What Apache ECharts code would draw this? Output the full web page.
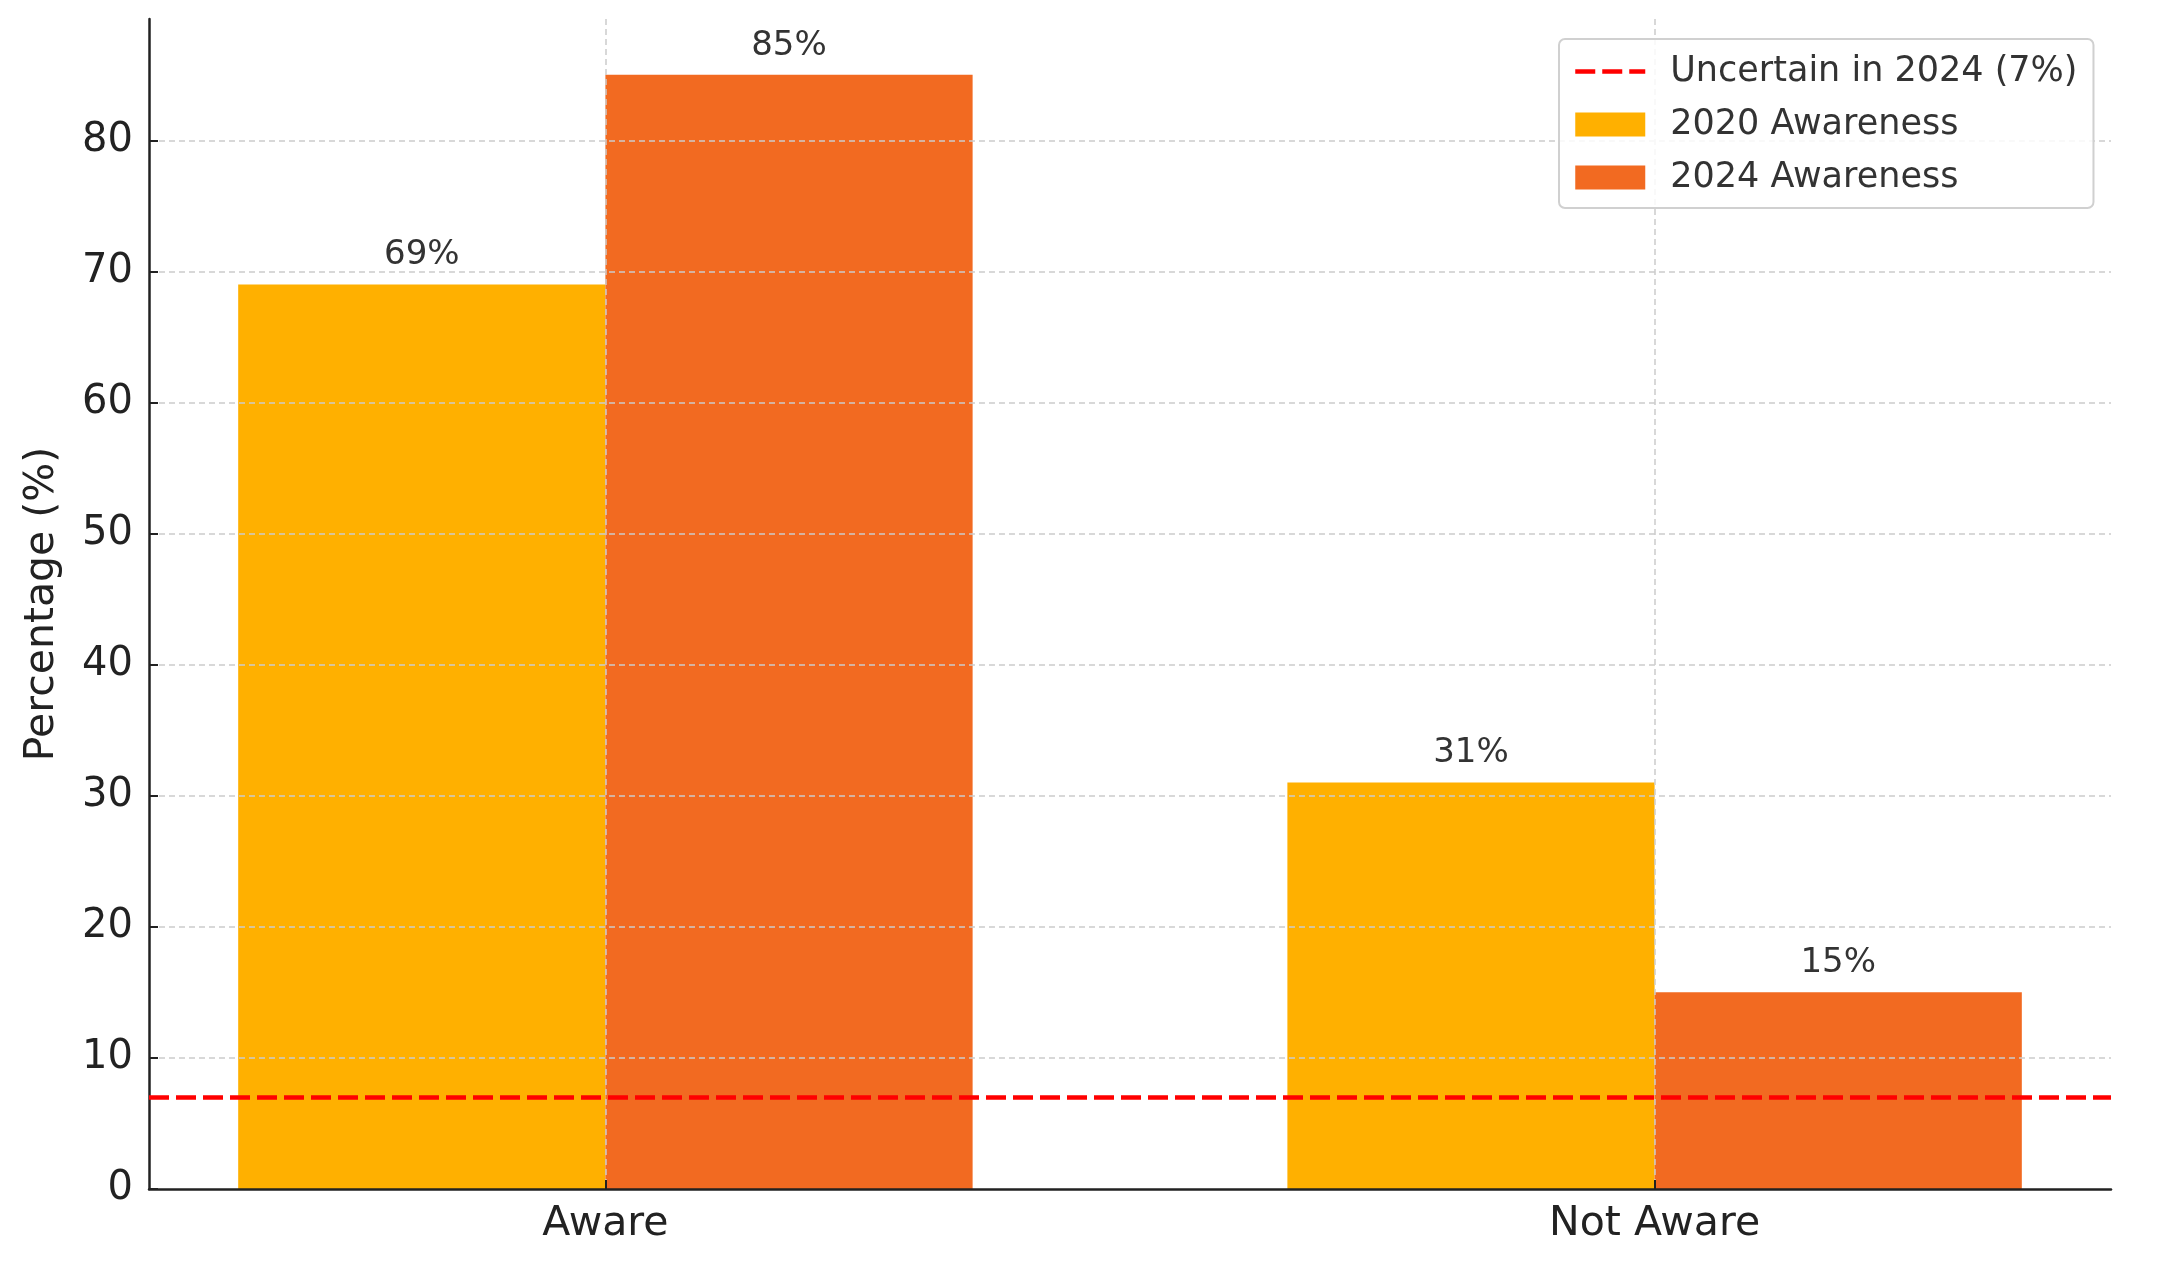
<!DOCTYPE html>
<html>
<head>
<meta charset="utf-8">
<script src="https://cdn.jsdelivr.net/npm/echarts@6/dist/echarts.min.js"></script>
<style>
html,body{margin:0;padding:0;background:#fff;}
#chart{width:2163px;height:1263px;}
</style>
</head>
<body>
<div id="chart"></div>
<script>
// ---- data ----
const categories = ['Aware', 'Not Aware'];
const awareness2020 = [69, 31];
const awareness2024 = [85, 15];
const uncertain2024 = 7;
const yTicks = [0, 10, 20, 30, 40, 50, 60, 70, 80];
const seriesNames = ['Uncertain in 2024 (7%)', '2020 Awareness', '2024 Awareness'];

// ---- layout constants (matplotlib-like) ----
const BAR_W = 0.35;
const X_MIN = -0.435, X_MAX = 1.435;
const Y_MAX = 89.25;
const FONT = 'DejaVu Sans';
const RED_LINE = { color: '#FF0000', width: 4.5, type: [20, 7] };

function barRenderer(offset) {
  return function (params, api) {
    const c = api.value(0);
    const v = api.value(1);
    const tl = api.coord([c + offset - BAR_W / 2, v]);
    const br = api.coord([c + offset + BAR_W / 2, 0]);
    const color = api.visual('color');
    return {
      type: 'group',
      children: [
        {
          type: 'rect',
          shape: { x: tl[0], y: tl[1], width: br[0] - tl[0], height: br[1] - tl[1] },
          style: { fill: color }
        },
        {
          type: 'text',
          x: (tl[0] + br[0]) / 2,
          y: tl[1] - 12,
          style: {
            text: v + '%',
            fill: '#333',
            font: '34px "' + FONT + '"',
            align: 'center',
            verticalAlign: 'bottom'
          }
        }
      ]
    };
  };
}

const chart = echarts.init(document.getElementById('chart'), null, { renderer: 'canvas' });
const option = {
  animation: false,
  backgroundColor: '#fff',
  textStyle: { fontFamily: FONT },
  grid: { left: 149, right: 52, top: 19, bottom: 74, containLabel: false },
  xAxis: {
    type: 'value',
    min: X_MIN,
    max: X_MAX,
    z: 3,
    axisLine: { show: true, onZero: false, lineStyle: { color: '#222', width: 2.5 } },
    axisTick: { show: true, inside: true, length: 9, customValues: [0, 1], lineStyle: { color: '#222', width: 2 } },
    axisLabel: {
      show: true,
      customValues: [0, 1],
      formatter: function (v) { return categories[Math.round(v)] || ''; },
      fontSize: 41, color: '#222', fontFamily: FONT, margin: 15
    },
    splitLine: { show: true, lineStyle: { color: '#cccccc', width: 1.5, type: [6, 4] } }
  },
  yAxis: {
    type: 'value',
    min: 0,
    max: Y_MAX,
    interval: 10,
    z: 3,
    name: 'Percentage (%)',
    nameLocation: 'middle',
    nameGap: 86,
    nameTextStyle: { fontSize: 41, color: '#222', fontFamily: FONT },
    axisLine: { show: true, onZero: false, lineStyle: { color: '#222', width: 2.5 } },
    axisTick: { show: true, inside: true, length: 9, customValues: yTicks, lineStyle: { color: '#222', width: 2 } },
    axisLabel: { show: true, customValues: yTicks, fontSize: 40, color: '#222', fontFamily: FONT, margin: 16, padding: [6, 0, 0, 0] },
    splitLine: { show: true, showMinLine: false, lineStyle: { color: '#cccccc', width: 1.5, type: [6, 4] } }
  },
  legend: {
    orient: 'vertical',
    left: 1559,
    top: 39,
    padding: [15, 16, 13, 14],
    itemGap: 18,
    itemWidth: 70,
    itemHeight: 24,
    backgroundColor: 'rgba(255,255,255,0.85)',
    borderColor: '#d0d0d0',
    borderWidth: 2,
    borderRadius: 6,
    textStyle: { fontSize: 35, color: '#333', fontFamily: FONT, padding: [0, 0, 0, 20] },
    data: [
      { name: seriesNames[0], itemStyle: { opacity: 0 }, lineStyle: RED_LINE },
      { name: seriesNames[1], icon: 'rect' },
      { name: seriesNames[2], icon: 'rect' }
    ]
  },
  series: [
    {
      name: seriesNames[1],
      type: 'custom',
      z: 2,
      itemStyle: { color: '#FFB000' },
      encode: { x: 0, y: 1 },
      data: awareness2020.map((v, i) => [i, v]),
      renderItem: barRenderer(-BAR_W / 2)
    },
    {
      name: seriesNames[2],
      type: 'custom',
      z: 2,
      itemStyle: { color: '#F26A21' },
      encode: { x: 0, y: 1 },
      data: awareness2024.map((v, i) => [i, v]),
      renderItem: barRenderer(BAR_W / 2)
    },
    {
      name: seriesNames[0],
      type: 'line',
      z: 5,
      symbol: 'none',
      showSymbol: false,
      data: [],
      itemStyle: { color: '#FF0000' },
      lineStyle: RED_LINE,
      markLine: {
        silent: true,
        symbol: ['none', 'none'],
        z: 5,
        label: { show: false },
        lineStyle: RED_LINE,
        data: [{ yAxis: uncertain2024 }]
      }
    }
  ]
};
chart.setOption(option);
</script>
</body>
</html>
